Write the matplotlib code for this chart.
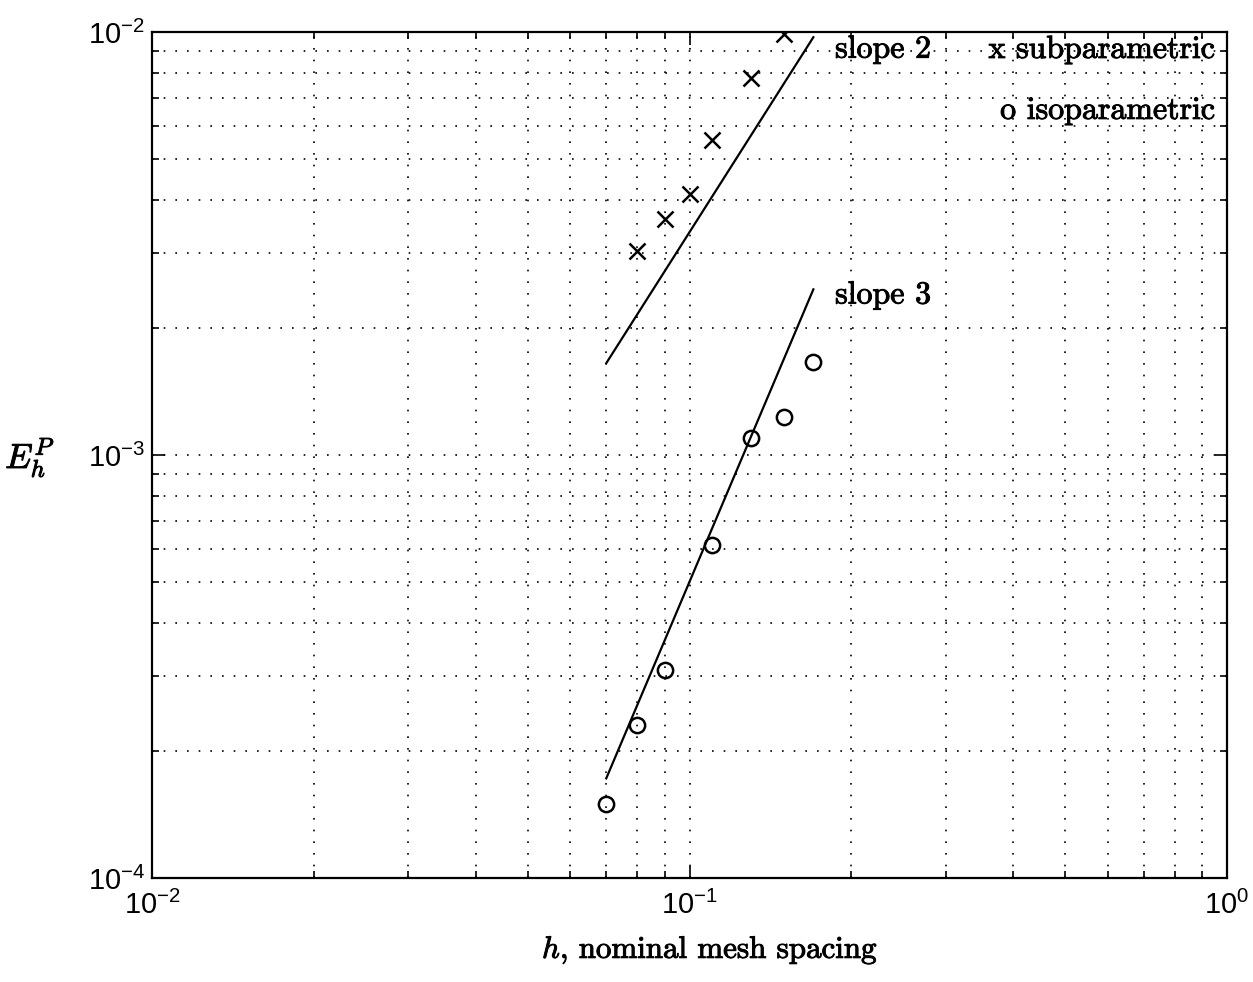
import matplotlib
matplotlib.use('Agg')
from matplotlib import pyplot as plt
from matplotlib import patheffects
from matplotlib.ticker import LogLocator, FuncFormatter, NullFormatter
import numpy as np

# mesh spacing and error
h_sub = [0.08, 0.09, 0.10, 0.11, 0.13, 0.15]
err_sub = [3.03e-3, 3.62e-3, 4.14e-3, 5.55e-3, 7.77e-3, 9.90e-3]
h_iso = [0.07, 0.08, 0.09, 0.11, 0.13, 0.15, 0.17]
err_iso = [1.50e-4, 2.30e-4, 3.10e-4, 6.13e-4, 1.096e-3, 1.233e-3, 1.657e-3]

# reference slope lines: endpoints in h, value at the left end
h_ref = [0.07, 0.17]
ref2_start = 1.648e-3
ref3_start = 1.72e-4

plt.rcParams['mathtext.fontset'] = 'cm'
heavy = [patheffects.withStroke(linewidth=0.7, foreground='k')]

fig = plt.figure(figsize=(12.53, 9.82), dpi=100)
ax = fig.add_axes([152/1253, 1-878/982, (1227-152)/1253, (878-32)/982])

h_ref = np.array(h_ref)
ax.plot(h_ref, ref2_start*(h_ref/h_ref[0])**2, 'k-', lw=1.6)
ax.plot(h_ref, ref3_start*(h_ref/h_ref[0])**3, 'k-', lw=1.6)
ax.plot(h_sub, err_sub, 'kx', ms=12, mew=1.8, linestyle='none')
ax.plot(h_iso, err_iso, 'ko', ms=11, mew=1.8, mfc='none', linestyle='none')

ax.set_xscale('log')
ax.set_yscale('log')
ax.set_xlim(1e-2, 1)
ax.set_ylim(1e-4, 1e-2)

ax.xaxis.set_minor_locator(LogLocator(base=10, subs=np.arange(2, 10)))
ax.yaxis.set_minor_locator(LogLocator(base=10, subs=np.arange(2, 10)))
ax.xaxis.set_minor_formatter(NullFormatter())
ax.yaxis.set_minor_formatter(NullFormatter())
fmt = FuncFormatter(lambda v, p: r'$\mathregular{10^{%d}}$' % int(round(np.log10(v))))
ax.xaxis.set_major_formatter(fmt)
ax.yaxis.set_major_formatter(fmt)

ax.tick_params(which='both', direction='in', top=True, right=True, width=1.2)
ax.tick_params(which='major', length=9)
ax.tick_params(which='minor', length=5)
ax.tick_params(axis='x', pad=9)
ax.tick_params(axis='y', pad=5)
for lab in ax.get_xticklabels() + ax.get_yticklabels():
    lab.set_fontfamily('Liberation Sans')
    lab.set_fontsize(21)
    lab.set_math_fontfamily('dejavusans')

ax.grid(True, which='both', color='k', linestyle=(0, (1, 6)), linewidth=1.2)
for s in ax.spines.values():
    s.set_linewidth(1.6)

# annotations
tkw = dict(fontsize=23, family='cmr10', va='center', path_effects=heavy)
ax.text(0.1866, 9.07e-3, 'slope 2', ha='left', **tkw)
ax.text(0.1866, 2.38e-3, 'slope 3', ha='left', **tkw)
ax.text(0.95, 9.07e-3, 'x subparametric', ha='right', **tkw)
ax.text(0.95, 6.50e-3, 'o isoparametric', ha='right', **tkw)

fig.text(710/1253, 1-950/982, r'$h$, nominal mesh spacing', family='cmr10',
         ha='center', va='center', fontsize=22.3, math_fontfamily='cm',
         path_effects=heavy)
fig.text(30/1253, 1-458/982, r'$E_h^P$', ha='center', va='center',
         fontsize=25, math_fontfamily='cm', path_effects=heavy)

plt.savefig('out.png', dpi=100)
